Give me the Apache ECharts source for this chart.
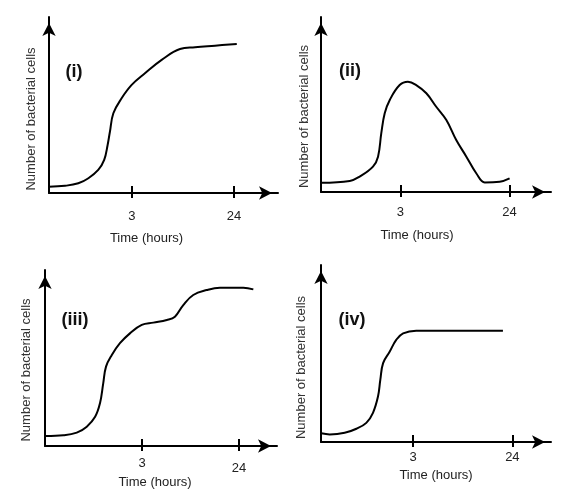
<!DOCTYPE html>
<html>
<head>
<meta charset="utf-8">
<title>Bacterial growth curves</title>
<script src="https://cdn.jsdelivr.net/npm/echarts@6.0.0/dist/echarts.min.js"></script>
<style>
	html, body { margin: 0; padding: 0; background: #fff; }
	#main { width: 586px; height: 494px; }
</style>
</head>
<body>
<div id="main"></div>
<script>
	// labels
	var panelNames = ['(i)', '(ii)', '(iii)', '(iv)'];
	var tickLabels = ['3', '24'];
	var xTitle = 'Time (hours)';
	var yTitle = 'Number of bacterial cells';

	// where the "3" and "24" ticks sit on each time axis (0-100 = axis length)
	var tickPos_i = [36.2, 80.8];
	var tickPos_ii = [34.5, 82];
	var tickPos_iii = [41.9, 83.6];
	var tickPos_iv = [40, 83.2];

	// curves (x: 0-100 along axis, y: 0-100 up the axis)
	var x_i = [0, 7, 12.8, 17.2, 21.5, 24.1, 25.6, 26.6, 28.1, 31.7, 36.1, 41.9, 49.2, 57.2, 63.8, 72.5, 82];
	var y_i = [3.6, 4.1, 5.5, 8.4, 13.1, 18.8, 27.3, 34.8, 45.3, 53.8, 61.4, 68, 75.6, 81.8, 82.8, 83.7, 84.7];

	var x_ii = [0.1, 12.5, 16.8, 22.6, 24.8, 26.2, 27.7, 29.9, 34.2, 37.8, 41.4, 45.8, 50.1, 54.5, 58.8, 63.2, 67.5, 71.2, 77.7, 82];
	var y_ii = [5.3, 6.3, 8.8, 14.5, 20.2, 33.5, 45, 52.6, 61.1, 63, 61.1, 56.4, 48.7, 41.1, 29.7, 20.2, 10.7, 5.5, 5.9, 7.8];

	var x_iii = [0.4, 7.9, 13.7, 18, 21.6, 23.7, 25.1, 26.3, 28.8, 32.3, 36.6, 41.7, 46.7, 52.5, 56, 59.6, 63.9, 69.7, 75.4, 85.5, 89.8];
	var y_iii = [5.7, 6.1, 7.6, 11, 16.6, 24.3, 35.6, 45.1, 51.7, 58.4, 64, 68.8, 70.1, 71.6, 73.5, 80.1, 85.8, 88.6, 89.9, 89.9, 89];

	var x_iv = [0.1, 3.8, 10.3, 15.4, 19.7, 22.6, 24.8, 25.8, 27, 29.9, 32.7, 35.7, 41.4, 53, 79.1];
	var y_iv = [4.9, 4.3, 5.2, 7.5, 10.8, 16.5, 25.8, 35.2, 44.6, 51.1, 57.7, 61.4, 62.9, 62.9, 62.9];

	var font = 'Liberation Sans, Arial, sans-serif';

	function zip(xs, ys) {
		var out = [];
		for (var i = 0; i < xs.length; i++) {
			out.push([xs[i], ys[i]]);
		}
		return out;
	}

	// per panel: grid box, tick positions, label tweaks (drop = extra px under a tick label)
	var panels = [
		{grid: {left: 49, top: 17, width: 229, height: 176}, ticks: tickPos_i, data: zip(x_i, y_i),
			labelMargin: 17, drop: [0, 0], xGap: 39, xShift: 17, yGap: 11, yShift: 14, tag: [74, 72]},
		{grid: {left: 321, top: 17, width: 230, height: 175}, ticks: tickPos_ii, data: zip(x_ii, y_ii),
			labelMargin: 14, drop: [0, 0], xGap: 37, xShift: 19, yGap: 10, yShift: 12, tag: [350, 71]},
		{grid: {left: 45, top: 270, width: 232, height: 176}, ticks: tickPos_iii, data: zip(x_iii, y_iii),
			labelMargin: 11, drop: [0, 5], xGap: 29, xShift: 6, yGap: 12, yShift: 12, tag: [75, 320]},
		{grid: {left: 321, top: 265, width: 230, height: 177}, ticks: tickPos_iv, data: zip(x_iv, y_iv),
			labelMargin: 9, drop: [0, 0], xGap: 27, xShift: 0, yGap: 13, yShift: 14, tag: [352, 320]}
	];

	var grids = [], xAxes = [], yAxes = [], series = [], texts = [];

	panels.forEach(function (p, g) {
		grids.push(p.grid);
		var ticks = p.ticks;
		var rich = {};
		p.drop.forEach(function (d, k) {
			rich['t' + k] = {color: '#222', fontSize: 13, fontFamily: font, padding: [d, 0, 0, 0]};
		});
		// main time axis: line + arrow, lower half of ticks, labels, title
		xAxes.push({
			type: 'value', gridIndex: g, min: 0, max: 100, position: 'bottom',
			splitLine: {show: false},
			axisLine: {show: true, lineStyle: {color: '#000', width: 2},
				symbol: ['none', 'arrow'], symbolSize: [10, 13], symbolOffset: [0, -6]},
			axisTick: {show: true, customValues: ticks, length: 5, lineStyle: {color: '#000', width: 2}},
			axisLabel: {
				customValues: ticks, margin: p.labelMargin, color: '#222', fontSize: 13, fontFamily: font,
				rich: rich,
				formatter: function (v) {
					var best = 0;
					for (var i = 1; i < ticks.length; i++) {
						if (Math.abs(ticks[i] - v) < Math.abs(ticks[best] - v)) best = i;
					}
					return '{t' + best + '|' + tickLabels[best] + '}';
				}
			},
			name: xTitle, nameLocation: 'middle', nameGap: p.xGap,
			nameTextStyle: {color: '#222', fontSize: 13, fontFamily: font, padding: [0, p.xShift * 2, 0, 0]}
		});
		// second axis only for the upper half of the ticks
		xAxes.push({
			type: 'value', gridIndex: g, min: 0, max: 100, position: 'bottom',
			splitLine: {show: false},
			axisLine: {show: false},
			axisTick: {show: true, inside: true, customValues: ticks, length: 7, lineStyle: {color: '#000', width: 2}},
			axisLabel: {show: false}
		});
		yAxes.push({
			type: 'value', gridIndex: g, min: 0, max: 100,
			splitLine: {show: false},
			axisLine: {show: true, lineStyle: {color: '#000', width: 2},
				symbol: ['none', 'arrow'], symbolSize: [10, 13], symbolOffset: [0, -6]},
			axisTick: {show: false},
			axisLabel: {show: false},
			name: yTitle, nameLocation: 'middle', nameGap: p.yGap,
			nameTextStyle: {color: '#333', fontSize: 13, fontFamily: font, padding: [0, p.yShift * 2, 0, 0]}
		});
		series.push({
			type: 'line', xAxisIndex: g * 2, yAxisIndex: g,
			data: p.data, smooth: 0.4,
			showSymbol: false, silent: true,
			lineStyle: {color: '#000', width: 2}
		});
		texts.push({
			type: 'text', x: p.tag[0], y: p.tag[1],
			style: {text: panelNames[g], fill: '#111', font: 'bold 18px ' + font,
				textAlign: 'center', textVerticalAlign: 'middle'}
		});
	});

	var myChart = echarts.init(document.getElementById('main'));
	myChart.setOption({
		animation: false,
		backgroundColor: '#fff',
		grid: grids,
		xAxis: xAxes,
		yAxis: yAxes,
		series: series,
		graphic: texts
	});
</script>
</body>
</html>
